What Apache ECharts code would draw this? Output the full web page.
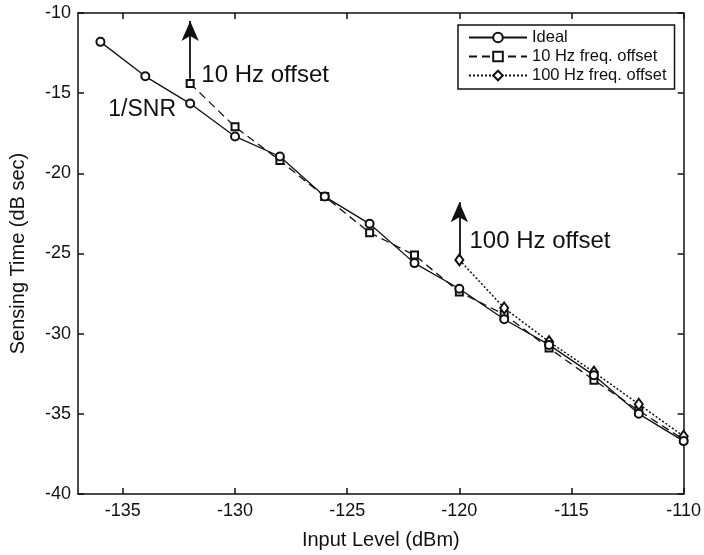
<!DOCTYPE html>
<html>
<head>
<meta charset="utf-8">
<script src="https://cdn.jsdelivr.net/npm/echarts@6/dist/echarts.min.js"></script>
<style>html,body{margin:0;padding:0;background:#fff;}#c{width:704px;height:555px;}</style>
</head>
<body>
<div id="c"></div>
<script>
// ---- data ----
var inputLevel = [-136, -134, -132, -130, -128, -126, -124, -122, -120, -118, -116, -114, -112, -110];
var idealTime  = [-11.8, -13.95, -15.65, -17.7, -18.95, -21.45, -23.15, -25.6, -27.2, -29.1, -30.7, -32.6, -35.0, -36.7];
var offset10Level = [-132, -130, -128, -126, -124, -122, -120, -118, -116, -114, -112, -110];
var offset10Time  = [-14.4, -17.1, -19.2, -21.45, -23.7, -25.1, -27.4, -28.8, -30.9, -32.9, -34.8, -36.6];
var offset100Level = [-120, -118, -116, -114, -112, -110];
var offset100Time  = [-25.4, -28.4, -30.5, -32.4, -34.4, -36.4];
var xTicks = [-135, -130, -125, -120, -115, -110];
var yTicks = [-40, -35, -30, -25, -20, -15, -10];
var seriesNames = ['Ideal', '10 Hz freq. offset', '100 Hz freq. offset'];
// annotations (data coordinates)
var arrow10 = [[-132, -14.1], [-132, -10.5]];
var arrow100 = [[-120, -25.2], [-120, -21.8]];
var annoText = ['10 Hz offset', '1/SNR', '100 Hz offset'];
var annoPos = [[-131.5, -13.86], [-135.65, -16.04], [-119.55, -24.27]];
var annoSize = [24, 23, 24];

function pairs(xs, ys) { return xs.map(function (x, i) { return [x, ys[i]]; }); }

var FONT = 'Liberation Sans, Arial, Helvetica, sans-serif';
var INK = '#111';

var chart = echarts.init(document.getElementById('c'), null, { renderer: 'canvas' });

var axisCommonX = {
  type: 'value', min: -137, max: -110,
  axisLine: { show: true, onZero: false, lineStyle: { color: INK, width: 1.5 } },
  axisTick: { show: true, inside: true, length: 6, customValues: xTicks, lineStyle: { color: INK, width: 1.5 } },
  splitLine: { show: false }
};
var axisCommonY = {
  type: 'value', min: yTicks[0], max: yTicks[yTicks.length - 1], interval: 5,
  axisLine: { show: true, onZero: false, lineStyle: { color: INK, width: 1.5 } },
  axisTick: { show: true, inside: true, length: 6, lineStyle: { color: INK, width: 1.5 } },
  splitLine: { show: false }
};

var option = {
  backgroundColor: '#fff',
  animation: false,
  textStyle: { fontFamily: FONT },
  grid: { left: 73.5, right: 17, top: 13, bottom: 60.5, containLabel: false },
  legend: {
    data: seriesNames,
    orient: 'vertical',
    left: 458, top: 25,
    padding: [4, 8, 5, 10],
    borderColor: INK, borderWidth: 1.5,
    backgroundColor: '#fff',
    itemWidth: 58, itemHeight: 12, itemGap: 2,
    textStyle: { fontSize: 16.5, color: INK, fontFamily: FONT },
    selectedMode: false
  },
  xAxis: [
    Object.assign({}, axisCommonX, {
      position: 'bottom',
      name: 'Input Level (dBm)', nameLocation: 'middle', nameGap: 36,
      nameTextStyle: { fontSize: 20, color: INK, fontFamily: FONT },
      axisLabel: { show: true, customValues: xTicks, fontSize: 18, color: INK, margin: 8, fontFamily: FONT }
    }),
    Object.assign({}, axisCommonX, { position: 'top', axisLabel: { show: false } })
  ],
  yAxis: [
    Object.assign({}, axisCommonY, {
      position: 'left',
      name: 'Sensing Time (dB sec)', nameLocation: 'middle', nameGap: 50,
      nameTextStyle: { fontSize: 20, color: INK, fontFamily: FONT },
      axisLabel: { show: true, fontSize: 18, color: INK, margin: 7, fontFamily: FONT }
    }),
    Object.assign({}, axisCommonY, { position: 'right', axisLabel: { show: false } })
  ],
  series: [
    {
      name: seriesNames[0], type: 'line', data: pairs(inputLevel, idealTime),
      symbol: 'emptyCircle', symbolSize: 8, z: 4,
      lineStyle: { color: INK, width: 1.3, type: 'solid' },
      itemStyle: { color: INK, borderColor: INK, borderWidth: 1 }
    },
    {
      name: seriesNames[1], type: 'line', data: pairs(offset10Level, offset10Time),
      symbol: 'emptyRect', symbolSize: 7, z: 3,
      lineStyle: { color: INK, width: 1.3, type: [8, 5] },
      itemStyle: { color: INK, borderColor: INK, borderWidth: 1 },
      markLine: {
        silent: true, symbol: ['none', 'arrow'], symbolSize: [13, 20],
        label: { show: false },
        lineStyle: { color: INK, width: 1.8, type: 'solid' },
        data: [[{ coord: arrow10[0] }, { coord: arrow10[1] }]]
      }
    },
    {
      name: seriesNames[2], type: 'line', data: pairs(offset100Level, offset100Time),
      symbol: 'emptyDiamond', symbolSize: [8, 11], z: 3,
      lineStyle: { color: INK, width: 1.5, type: [2, 2] },
      itemStyle: { color: INK, borderColor: INK, borderWidth: 1 },
      markLine: {
        silent: true, symbol: ['none', 'arrow'], symbolSize: [13, 20],
        label: { show: false },
        lineStyle: { color: INK, width: 1.8, type: 'solid' },
        data: [[{ coord: arrow100[0] }, { coord: arrow100[1] }]]
      }
    },
    {
      name: 'annotations', type: 'scatter', symbolSize: 0, silent: true,
      itemStyle: { opacity: 1, color: INK },
      data: annoPos.map(function (p, i) {
        return { value: p, name: annoText[i], label: { fontSize: annoSize[i] } };
      }),
      label: {
        show: true, position: 'right', distance: 0,
        formatter: function (p) { return p.name; },
        color: INK, opacity: 1, fontFamily: FONT
      }
    }
  ]
};
chart.setOption(option);
</script>
</body>
</html>
